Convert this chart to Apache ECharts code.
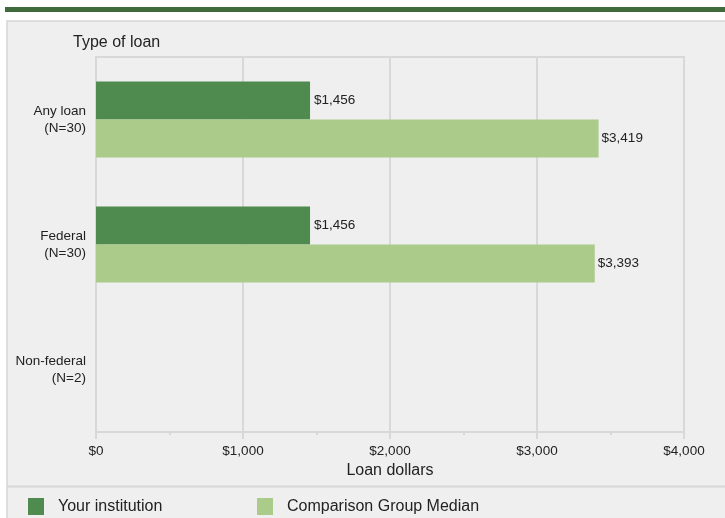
<!DOCTYPE html>
<html>
<head>
<meta charset="utf-8">
<script src="https://cdn.jsdelivr.net/npm/echarts@6/dist/echarts.min.js"></script>
<style>
html,body{margin:0;padding:0;background:#fff;}
#chart{width:725px;height:518px;}
</style>
</head>
<body>
<div id="chart"></div>
<script>
var categories = ['Any loan\n(N=30)', 'Federal\n(N=30)', 'Non-federal\n(N=2)'];
var yourInstitution = [1456, 1456, null];
var comparisonMedian = [3419, 3393, null];
var seriesNames = ['Your institution', 'Comparison Group Median'];
var xTicks = { min: 0, max: 4000, interval: 1000 };

var FONT = 'Liberation Sans, Arial, sans-serif';
var DARK = '#4f8a4f';
var LIGHT = '#aacb8a';
var SMALL = 13.5;
var LARGE = 16;

function money(v) {
  return '$' + Math.round(v).toString().replace(/\B(?=(\d{3})+(?!\d))/g, ',');
}

var chart = echarts.init(document.getElementById('chart'), null, { renderer: 'canvas' });
chart.setOption({
  backgroundColor: '#ffffff',
  animation: false,
  graphic: [
    { type: 'rect', z: -10, shape: { x: 5, y: 7, width: 720, height: 5 }, style: { fill: '#3f6a3b' } },
    { type: 'rect', z: -10, shape: { x: 7, y: 21, width: 725, height: 500 }, style: { fill: '#efefef', stroke: '#d6d6d6', lineWidth: 1.5 } },
    { type: 'line', z: -9, shape: { x1: 7, y1: 486.5, x2: 725, y2: 486.5 }, style: { stroke: '#d6d6d6', lineWidth: 2 } }
  ],
  title: {
    text: 'Type of loan',
    left: 68,
    top: 30,
    textStyle: { fontFamily: FONT, fontSize: LARGE, fontWeight: 'normal', color: '#222' }
  },
  legend: [
    {
      data: [seriesNames[0]],
      left: 23, top: 493,
      itemWidth: 16, itemHeight: 17,
      icon: 'rect',
      textStyle: { fontFamily: FONT, fontSize: LARGE, color: '#222', padding: [0, 0, 0, 9] }
    },
    {
      data: [seriesNames[1]],
      left: 252, top: 493,
      itemWidth: 16, itemHeight: 17,
      icon: 'rect',
      textStyle: { fontFamily: FONT, fontSize: LARGE, color: '#222', padding: [0, 0, 0, 9] }
    }
  ],
  grid: {
    left: 96, right: 41, top: 57, bottom: 86,
    show: true, borderColor: '#d8d8d8', borderWidth: 2, backgroundColor: 'transparent'
  },
  xAxis: {
    type: 'value',
    min: xTicks.min, max: xTicks.max, interval: xTicks.interval,
    name: 'Loan dollars',
    nameLocation: 'middle',
    nameGap: 30,
    nameTextStyle: { fontFamily: FONT, fontSize: LARGE, color: '#222' },
    axisLine: { show: true, lineStyle: { color: '#d8d8d8', width: 2 } },
    axisTick: { show: true, length: 7, lineStyle: { color: '#d8d8d8', width: 2 } },
    minorTick: { show: true, splitNumber: 2, length: 3, lineStyle: { color: '#d8d8d8', width: 2 } },
    splitLine: { show: true, lineStyle: { color: '#d8d8d8', width: 2 } },
    axisLabel: { fontFamily: FONT, fontSize: SMALL, color: '#222', margin: 12, formatter: money }
  },
  yAxis: {
    type: 'category',
    inverse: true,
    data: categories,
    axisLine: { show: true, lineStyle: { color: '#d8d8d8', width: 2 } },
    axisTick: { show: false },
    splitLine: { show: false },
    axisLabel: { fontFamily: FONT, fontSize: SMALL, color: '#222', margin: 10, align: 'right', lineHeight: 17 }
  },
  series: [
    {
      name: seriesNames[0],
      type: 'bar',
      data: yourInstitution,
      barWidth: 38,
      barGap: '0%',
      itemStyle: { color: DARK },
      label: { show: true, position: 'right', distance: 4, fontFamily: FONT, fontSize: SMALL, color: '#222', formatter: function (p) { return money(p.value); } }
    },
    {
      name: seriesNames[1],
      type: 'bar',
      data: comparisonMedian,
      barWidth: 38,
      barGap: '0%',
      itemStyle: { color: LIGHT },
      label: { show: true, position: 'right', distance: 3, fontFamily: FONT, fontSize: SMALL, color: '#222', formatter: function (p) { return money(p.value); } }
    }
  ]
});
</script>
</body>
</html>
